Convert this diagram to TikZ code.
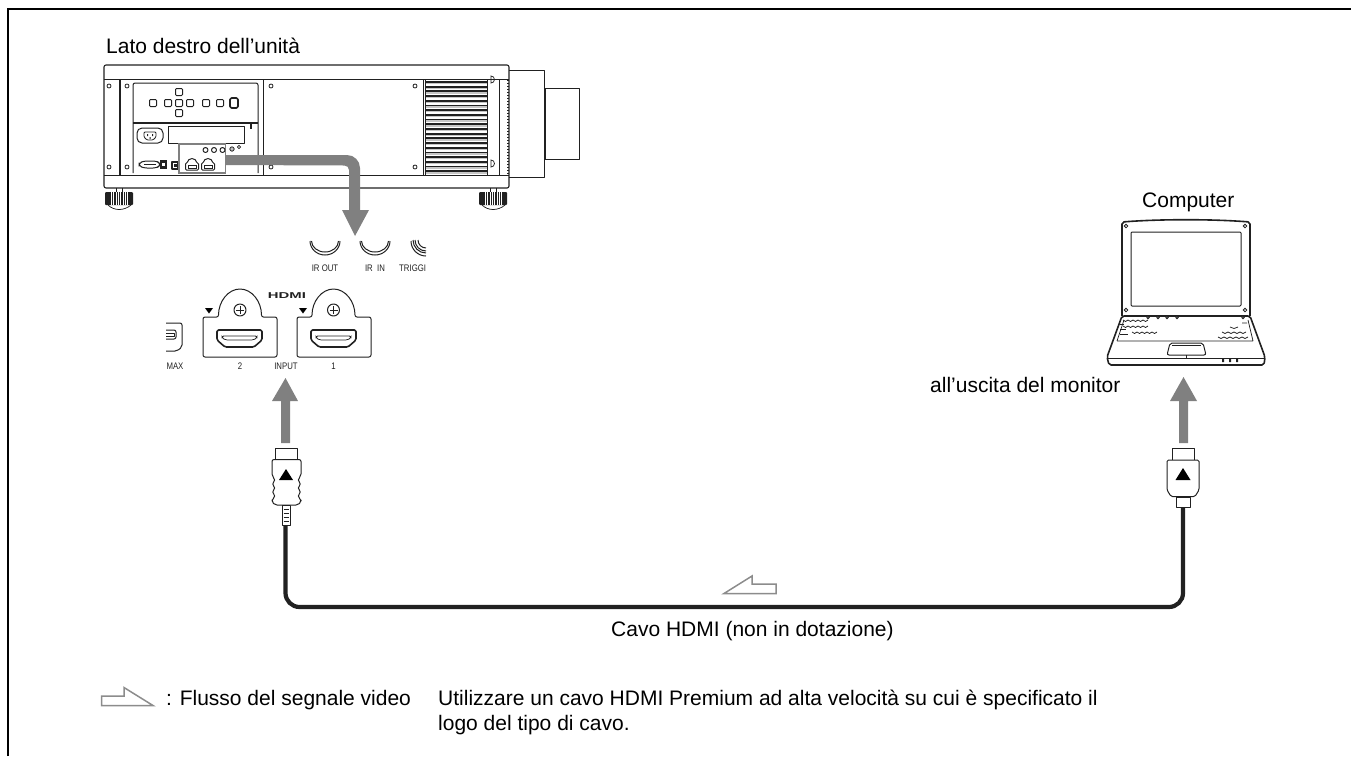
\documentclass[tikz,border=0pt]{standalone}
\usepackage{fontspec}
\setmainfont{Liberation Sans}
\newfontfamily\narrowf[FakeStretch=0.82]{Liberation Sans}
\newfontfamily\logof[FakeStretch=1.75]{Liberation Sans Bold}
\definecolor{flow}{gray}{0.5}
\definecolor{ink}{gray}{0.13}
\definecolor{hollow}{gray}{0.55}
\tikzset{
 label/.style={font=\fontsize{21}{25}\selectfont,inner sep=0pt,anchor=base west,text=black},
 tiny/.style={font=\narrowf\fontsize{9.5}{11}\selectfont,inner sep=0pt,anchor=base,text=ink},
 part/.style={draw=ink,line width=1pt,line join=round},
 thin part/.style={draw=ink,line width=0.75pt},
 heavy part/.style={draw=ink,line width=1.6pt,line join=round},
 flowarrow/.style={fill=flow,draw=none},
 cable/.style={draw=ink,line width=4.2pt},
 outline arrow/.style={draw=hollow,line width=1.5pt,fill=white,line join=miter},
 hole/.style={draw=ink,line width=0.8pt,fill=white},
}
\newcommand{\hdmiport}[3]{% left x, center x, connector-left
 \draw[part,rounded corners=2pt] (#1,317) -- ({#2-21.5},317) arc[start angle=180,end angle=0,x radius=21.5,y radius=-28] -- ({#1+74},317) -- ({#1+74},357) -- (#1,357) -- cycle;
 \draw[part] (#2,310) circle (6);
 \draw[thin part] ({#2-4},310) -- ({#2+4},310) (#2,306) -- (#2,314);
 \fill[black] ({#1+2},308) -- ({#1+10},308) -- ({#1+6},313.5) -- cycle;
 \draw[heavy part,rounded corners=1.5pt] (#3,330) -- ({#3+45},330) -- ({#3+45},340) -- ({#3+37},347) -- ({#3+8},347) -- (#3,340) -- cycle;
 \draw[thin part,rounded corners=1.5pt] ({#3+5},336) -- ({#3+40},336) -- ({#3+40},338) -- ({#3+36},340) -- ({#3+9},340) -- ({#3+5},338) -- cycle;
}
\newcommand{\smallbtn}[2]{\draw[part,rounded corners=1pt] ({#1-3.5},{#2-3.5}) rectangle ({#1+3.5},{#2+3.5});}
\newcommand{\foot}[1]{%
 \draw[thin part] ({#1+11},188) -- ({#1+11},192) ({#1+17},188) -- ({#1+17},192);
 \fill[ink,rounded corners=1pt] (#1,192) rectangle ({#1+28},205);
 \foreach \k in {1,...,8} \draw[white,line width=0.6pt] ({#1+4+\k*2.3},192) -- ({#1+4+\k*2.3},205);
 \draw[thin part] ({#1+3},205) .. controls ({#1+9},211) and ({#1+19},211) .. ({#1+26},205);
}
\begin{document}
\begin{tikzpicture}[x=1pt,y=-1pt]
\useasboundingbox (0,0) rectangle (1351,756);
\draw[black,line width=1.8pt] (8,756) -- (8,9) -- (1351,9);
%
\node[label] (lato) at (106,53) {Lato destro dell’unità};
\node[label] (comp) at (1142,207) {Computer};
\node[label] (usc) at (930,392) {all’uscita del monitor};
\node[label] (cavo) at (611,636) {Cavo HDMI (non in dotazione)};
\node[label] (flusso) at (166,705) {: Flusso del segnale video};
\node[label] (util) at (438,705) {Utilizzare un cavo HDMI Premium ad alta velocità su cui è specificato il};
\node[label] (logo) at (438,730) {logo del tipo di cavo.};
%
% projector body
\draw[part,line width=1.1pt,rounded corners=2pt] (104,65) rectangle (509,188);
\draw[part] (104,79) -- (509,79) (104,175) -- (509,175);
\draw[part,line width=1.4pt] (120,79) -- (120,175);
\draw[part] (263,79) -- (263,175) (423,79) -- (423,175) (499,79) -- (499,175);
\draw[part] (509,70) -- (544,70) -- (544,177) -- (509,177);
\draw[part] (544,88) -- (579,88) -- (579,159) -- (544,159);
\draw[part,line width=1.6pt] (545,88) -- (545,159);
\draw[part,dotted,line width=1.4pt] (508,80) -- (508,175);
% louvres
\foreach \k in {0,...,19} {\fill[ink] (425,{81+\k*4.7}) rectangle (487,{82.8+\k*4.7});
 \fill[gray!45] (425,{82.8+\k*4.7}) rectangle (487,{84.2+\k*4.7});}
\draw[thin part] (425,79) -- (425,175) (487,79) -- (487,175);
\draw[thin part] (491,83) arc[start angle=90,end angle=-90,radius=3.5] -- cycle;
\draw[thin part] (491,167) arc[start angle=90,end angle=-90,radius=3.5] -- cycle;
% small screws
\foreach \p in {(109,86),(109,167),(127,86),(127,167),(271,86),(271,167),(415,86),(415,167)} \draw[hole] \p circle (2);
% panel
\draw[part,rounded corners=2pt] (133,173) -- (133,83) -- (258,83) -- (258,173);
\draw[part,line width=1.3pt] (133,123) -- (258,123);
\smallbtn{179}{92}\smallbtn{179}{113}\smallbtn{153}{103}\smallbtn{168}{103}\smallbtn{179}{103}\smallbtn{190}{103}\smallbtn{206}{103}\smallbtn{220}{103}
\draw[heavy part,line width=1.6pt,rounded corners=1.5pt] (230,98) rectangle (238,108);
\draw[part,rounded corners=5pt] (137,128) rectangle (163,143);
\draw[thin part,rounded corners=1pt] (144,132) -- (156,132) -- (156,137) -- (153,140) -- (147,140) -- (144,137) -- cycle;
\fill[ink] (147,134) rectangle (148,136) (152,134) rectangle (153,136) (149.5,137) rectangle (150.5,139);
\draw[part] (168.5,126) rectangle (244,143.5);
\fill[ink] (250,124) rectangle (251.5,129);
\draw[part,rounded corners=3pt] (139,163) -- (144,161) -- (156,161) -- (160,163) -- (160,166) -- (156,168) -- (144,168) -- (139,166) -- cycle;
\draw[thin part] (144,164.5) -- (156,164.5);
\fill[ink] (159.5,160) rectangle (167,169);
\fill[white] (162,163) rectangle (165,166);
\draw[part,line width=1.2pt] (172,162) rectangle (178,169);
\fill[ink] (174,164) rectangle (178,167);
% inset
\draw[flow,line width=1.6pt] (179,144) rectangle (225.5,173);
\foreach \x in {205.5,214,222.5} \draw[part] (\x,150) circle (2.5);
\draw[thin part,fill=gray!50] (232,149) circle (2.2);
\draw[thin part] (239,147) circle (1.7);
\foreach \x in {192,208} {
 \draw[part,rounded corners=1pt] ({\x-6.5},170) -- ({\x-6.5},163) -- ({\x-4.5},163) arc[start angle=180,end angle=0,x radius=4.5,y radius=-4.5] -- ({\x+6.5},163) -- ({\x+6.5},170) -- cycle;
 \draw[thin part] ({\x-4},165) rectangle ({\x+4},168);
}
% feet
\foot{105}\foot{479}
%
% flow arrow from the inset
\fill[flowarrow] (226,155) -- (347,155) arc[start angle=90,end angle=0,x radius=13,y radius=-13] -- (360,210) -- (369,210) -- (355,236) -- (342,210) -- (349,210) -- (349,170) arc[start angle=0,end angle=90,x radius=4.5,y radius=-4.5] -- (226,165) -- cycle;
%
% IR detail
\foreach \x in {325,375} {
 \draw[part] ({\x-15},241) arc[start angle=180,end angle=360,x radius=15,y radius=-14];
 \draw[part] ({\x-13.5},241) arc[start angle=180,end angle=360,x radius=13.5,y radius=-11];
}
\draw[part] (411,241) arc[start angle=180,end angle=270,x radius=15,y radius=-15];
\draw[part] (413,240) arc[start angle=180,end angle=270,x radius=13,y radius=-13];
\draw[part] (415,240) arc[start angle=180,end angle=270,x radius=11,y radius=-11];
\draw[part] (418,240) arc[start angle=180,end angle=270,x radius=8,y radius=-8];
\node[tiny] (irout) at (325,271) {IR OUT};
\node[tiny] (irin) at (375,271) {IR\ \ IN};
\node[tiny,anchor=base west] (trig) at (399,271) {TRIGGI};
% ports
\hdmiport{203}{240}{217}
\hdmiport{297}{333.5}{311}
\node[font=\logof\fontsize{8.5}{9}\selectfont,inner sep=0pt,text=ink] (hdmi) at (287,296) {HDMI};
\node[tiny] (two) at (240,369) {2};
\node[tiny] (one) at (333.5,369) {1};
\node[tiny] (inp) at (286,369) {INPUT};
\node[tiny] (mx) at (175,369) {MAX};
% cut-off port
\draw[part,rounded corners=2pt] (166,323) -- (182,323) -- (182,347) -- (177,351) -- (166,351);
\draw[part,rounded corners=2pt] (166,330) -- (176,330) -- (176,339) -- (166,339);
\draw[part] (166,333) -- (174,333) -- (174,336) -- (166,336);
%
\coordinate (ca) at (285.5,522);
\coordinate (cc) at (1183,507);
\draw[cable,rounded corners=14pt] (ca) -- (285.5,607) -- (1183,607) -- (cc);
% left plug
\draw[part,fill=white] (275,448) rectangle (297,459);
\draw[part,fill=white,rounded corners=2pt] (272,459.5) -- (301,459.5) -- (301,476)
  .. controls (298,479) and (298,481) .. (301,484)
  .. controls (298,487) and (298,489) .. (301,492)
  .. controls (298,495) and (298,497) .. (301,499)
  -- (301,502) -- (298,505) -- (275,505) -- (272,502) -- (272,499)
  .. controls (275,497) and (275,495) .. (272,492)
  .. controls (275,489) and (275,487) .. (272,484)
  .. controls (275,481) and (275,479) .. (272,476) -- cycle;
\draw[part,fill=white] (282,505) rectangle (290.5,525);
\foreach \y in {509,513,517,521} \draw[thin part] (283.5,\y) -- (289,\y);
\fill[black] (279,480) -- (293,480) -- (286,469) -- cycle;
% right plug
\draw[part,fill=white] (1172,448) rectangle (1194,460);
\draw[part,fill=white,rounded corners=1.5pt] (1167,460) -- (1199,460) -- (1199,490) -- (1195,496.5) -- (1171,496.5) -- (1167,490) -- cycle;
\draw[part,fill=white] (1176,497) rectangle (1190,507);
\fill[black] (1175.5,480) -- (1190.5,480) -- (1183,468) -- cycle;
% up arrows
\fill[flowarrow] (281,443) -- (290,443) -- (290,401) -- (298,401) -- (285.5,378) -- (272,401) -- (281,401) -- cycle;
\fill[flowarrow] (1179,443) -- (1188,443) -- (1188,401) -- (1197,401) -- (1183.5,377) -- (1170,401) -- (1179,401) -- cycle;
%
% hollow arrows
\draw[outline arrow] (776,593.5) -- (724,593.5) -- (752,576) -- (752,584) -- (776,584) -- cycle;
\draw[outline arrow] (101.5,705.5) -- (153,705.5) -- (124,687.5) -- (124,696) -- (101.5,696) -- cycle;
%
% laptop
\draw[heavy part,rounded corners=2pt] (1122,316) -- (1122,222) .. controls (1160,219) and (1212,219) .. (1250,222) -- (1250,316);
\draw[part,rounded corners=1pt] (1131,232) rectangle (1241,306);
\foreach \p in {(1126,226),(1245,226),(1126,310),(1245,310)} \draw[hole] \p circle (1.8);
\draw[heavy part,rounded corners=2pt] (1122,316) -- (1250,316) -- (1265,357) -- (1264,365) -- (1109,365) -- (1107,357) -- cycle;
\draw[part] (1107,358) -- (1265,358);
\draw[thin part] (1117,341) -- (1253,341) (1124,320) -- (1117,341) (1248,320) -- (1253,341);
\draw[part,rounded corners=2pt] (1170,343) -- (1203,343) -- (1206,355) -- (1167,355) -- cycle;
\draw[thin part] (1172,345) -- (1201,345) (1186,355) -- (1186,359);
\foreach \y/\a in {320/1123,326/1123,332/1132} {
  \draw[thin part] (\a,\y) foreach \k in {0,...,4} { -- ++(2.5,1.5) -- ++(2.5,-1.5)};
}
\foreach \x in {1148,1158,1167,1177,1243} \draw[hole] (\x,317.5) circle (1.2);
\draw[thin part] (1120,334) -- (1128,334) (1120,329) -- (1126,329) (1120,324) -- (1124,324);
\draw[thin part] (1230,327) -- ++(4,1.5) -- ++(4,-1.5) (1242,323) -- (1247,323);
\draw[thin part] (1222,332) foreach \k in {0,...,3} { -- ++(3,1.5) -- ++(3,-1.5)} (1218,337) foreach \k in {0,...,4} { -- ++(3,1.5) -- ++(3,-1.5)};
\fill[ink] (1222,358) rectangle (1224,362) (1229,358) rectangle (1231,362) (1236,358) rectangle (1238,362);
\end{tikzpicture}
\end{document}
